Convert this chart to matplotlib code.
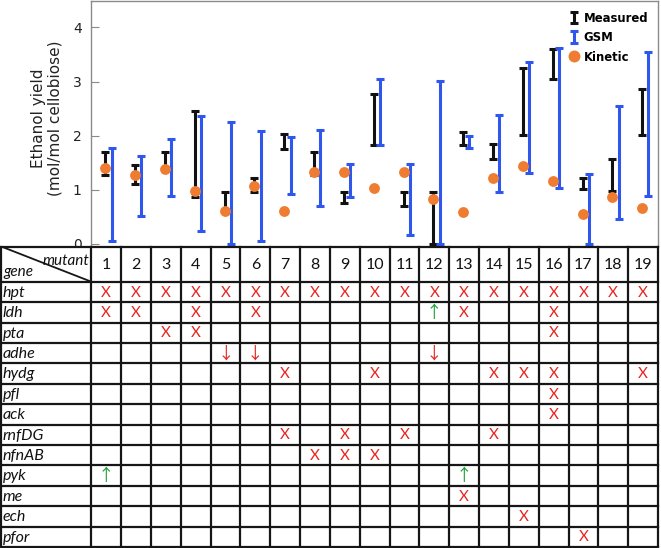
import matplotlib
matplotlib.use("Agg")
import matplotlib.pyplot as plt
import numpy as np

# ---------------- data ----------------
mutants = list(range(1, 20))
meas_lo = [1.27, 1.10, 1.38, 0.87, 0.62, 0.95, 1.75, 1.27, 0.75, 1.83, 0.70, 0.00, 1.83, 1.57, 2.01, 3.05, 1.01, 0.98, 2.01]
meas_hi = [1.70, 1.46, 1.70, 2.46, 0.96, 1.21, 2.03, 1.69, 0.95, 2.77, 0.96, 0.96, 2.07, 1.85, 3.25, 3.60, 1.21, 1.56, 2.86]
gsm_lo = [0.05, 0.51, 0.88, 0.24, 0.00, 0.05, 0.92, 0.70, 0.87, 1.83, 0.16, 0.00, 1.78, 0.96, 1.30, 1.03, 0.00, 0.46, 0.88]
gsm_hi = [1.78, 1.62, 1.93, 2.36, 2.25, 2.09, 1.98, 2.10, 1.48, 3.04, 1.48, 3.01, 1.99, 2.38, 3.37, 3.62, 1.29, 2.54, 3.55]
kinetic = [1.40, 1.27, 1.38, 0.98, 0.61, 1.06, 0.61, 1.33, 1.32, 1.04, 1.32, 0.83, 0.59, 1.21, 1.44, 1.17, 0.56, 0.87, 0.67]
yticks = [0, 1, 2, 3, 4]

genes = ["hpt", "ldh", "pta", "adhe", "hydg", "pfl", "ack", "rnfDG", "nfnAB", "pyk", "me", "ech", "pfor"]
knockouts = {
    "hpt": list(range(1, 20)),
    "ldh": [1, 2, 4, 6, 13, 16],
    "pta": [3, 4, 16],
    "adhe": [],
    "hydg": [7, 10, 14, 15, 16, 19],
    "pfl": [16],
    "ack": [16],
    "rnfDG": [7, 9, 11, 14],
    "nfnAB": [8, 9, 10],
    "pyk": [],
    "me": [13],
    "ech": [15],
    "pfor": [17],
}
up_regulated = {"ldh": [12], "pyk": [1, 13]}
down_regulated = {"adhe": [5, 6, 12]}

# ---------------- figure ----------------
W, H = 661, 548
fig = plt.figure(figsize=(W / 100, H / 100), dpi=100)

BLACK = "#111111"
BLUE = "#2f57ee"
ORANGE = "#ee7d31"
GRAY = "#8a8a8a"

x_left, x_right = 91.3, 658.0
ax_top, ax_bot = 1.0, 246.5
ax = fig.add_axes([x_left / W, 1 - ax_bot / H, (x_right - x_left) / W, (ax_bot - ax_top) / H])

x = np.array(mutants, dtype=float)
mlo, mhi = np.array(meas_lo), np.array(meas_hi)
glo, ghi = np.array(gsm_lo), np.array(gsm_hi)

eb1 = ax.errorbar(x - 0.03, (mlo + mhi) / 2, yerr=(mhi - mlo) / 2, fmt="none",
                  ecolor=BLACK, elinewidth=2.2, capsize=3, capthick=2.2, zorder=2, label="Measured")
eb2 = ax.errorbar(x + 0.18, (glo + ghi) / 2, yerr=(ghi - glo) / 2, fmt="none",
                  ecolor=BLUE, elinewidth=2.2, capsize=3, capthick=2.2, zorder=2, label="GSM")
sc = ax.plot(x - 0.03, kinetic, "o", color=ORANGE, markersize=7.8, markeredgewidth=0,
             zorder=3, label="Kinetic")[0]

ax.set_xlim(0.5, 19.5)
ax.set_ylim(-0.05, 4.49)
ax.set_xticks([])
ax.set_yticks(yticks)
ax.tick_params(axis="y", direction="in", length=6, width=0.8, color=GRAY, labelsize=10, pad=7,
               labelcolor="#222222")
for s in ["left", "top", "right"]:
    ax.spines[s].set_color(GRAY)
    ax.spines[s].set_linewidth(1.0)
ax.spines["bottom"].set_visible(False)

leg = ax.legend(handles=[eb1, eb2, sc], loc="upper right", frameon=False,
                prop={"weight": "bold", "size": 8.4}, handlelength=0.9, handletextpad=0.35,
                labelspacing=0.55, borderaxespad=0.2, bbox_to_anchor=(0.995, 0.985),
                markerscale=1.1)

fig.text(47 / W, 1 - 118 / H, "Ethanol yield\n(mol/mol cellobiose)", rotation=90,
         ha="center", va="center", fontsize=11, multialignment="center", color="#222222",
         linespacing=1.15)

# ---------------- table ----------------
col_w = (x_right - x_left) / 19.0
gene_w = x_left / col_w
row_h = 20.4
hdr_h = 35.2 / row_h
t_top, t_bot = 246.5, 547.0
tax = fig.add_axes([0, 1 - t_bot / H, x_right / W, (t_bot - t_top) / H], zorder=5)
tax.set_xlim(0.5 - gene_w, 19.5)
tax.set_ylim(len(genes), -hdr_h)
tax.axis("off")
tax.add_patch(plt.Rectangle((0.5 - gene_w, -hdr_h), gene_w + 19, hdr_h + len(genes),
                            facecolor="white", edgecolor="none", zorder=0))

lw = 1.6
LC = "#161616"
x0 = 0.5 - gene_w + 0.04
for r in range(len(genes) + 1):
    tax.plot([x0, 19.5], [r, r], color=LC, lw=lw, clip_on=False)
tax.plot([x0, 19.5], [-hdr_h, -hdr_h], color=LC, lw=lw, clip_on=False)
tax.plot([x0, x0], [-hdr_h, len(genes)], color=LC, lw=lw, clip_on=False)
for c in range(0, 20):
    tax.plot([c + 0.5, c + 0.5], [-hdr_h, len(genes)], color=LC, lw=lw, clip_on=False)
tax.plot([x0, 0.5], [-hdr_h, 0], color=LC, lw=1.3)

TF = ["Lato", "DejaVu Sans"]
tax.text(0.42, -hdr_h + 0.38, "mutant", ha="right", va="top", fontsize=11, style="italic",
         family=TF, color="#111111")
tax.text(x0 + 0.06, -0.12, "gene", ha="left", va="bottom", fontsize=11, style="italic",
         family=TF, color="#111111")
for m in mutants:
    tax.text(m, -hdr_h / 2 + 0.05, str(m), ha="center", va="center", fontsize=11.5, family=TF,
             color="#111111")

RED = "#e8231f"
GREEN = "#1fa033"
AF = ["Noto Sans CJK JP", "DejaVu Sans"]
for i, g in enumerate(genes):
    yc = i + 0.5
    tax.text(x0 + 0.06, yc + 0.04, g, ha="left", va="center", fontsize=11.5, style="italic",
             family=TF, color="#111111")
    for m in knockouts.get(g, []):
        tax.text(m, yc + 0.03, "X", ha="center", va="center", fontsize=11, family=TF, color=RED)
    for m in up_regulated.get(g, []):
        tax.text(m, yc + 0.05, "\u2191", ha="center", va="center", fontsize=12,
                 family=AF, color=GREEN)
    for m in down_regulated.get(g, []):
        tax.text(m, yc + 0.05, "\u2193", ha="center", va="center", fontsize=12,
                 family=AF, color=RED)

fig.savefig("out.png", dpi=100, facecolor="white")
